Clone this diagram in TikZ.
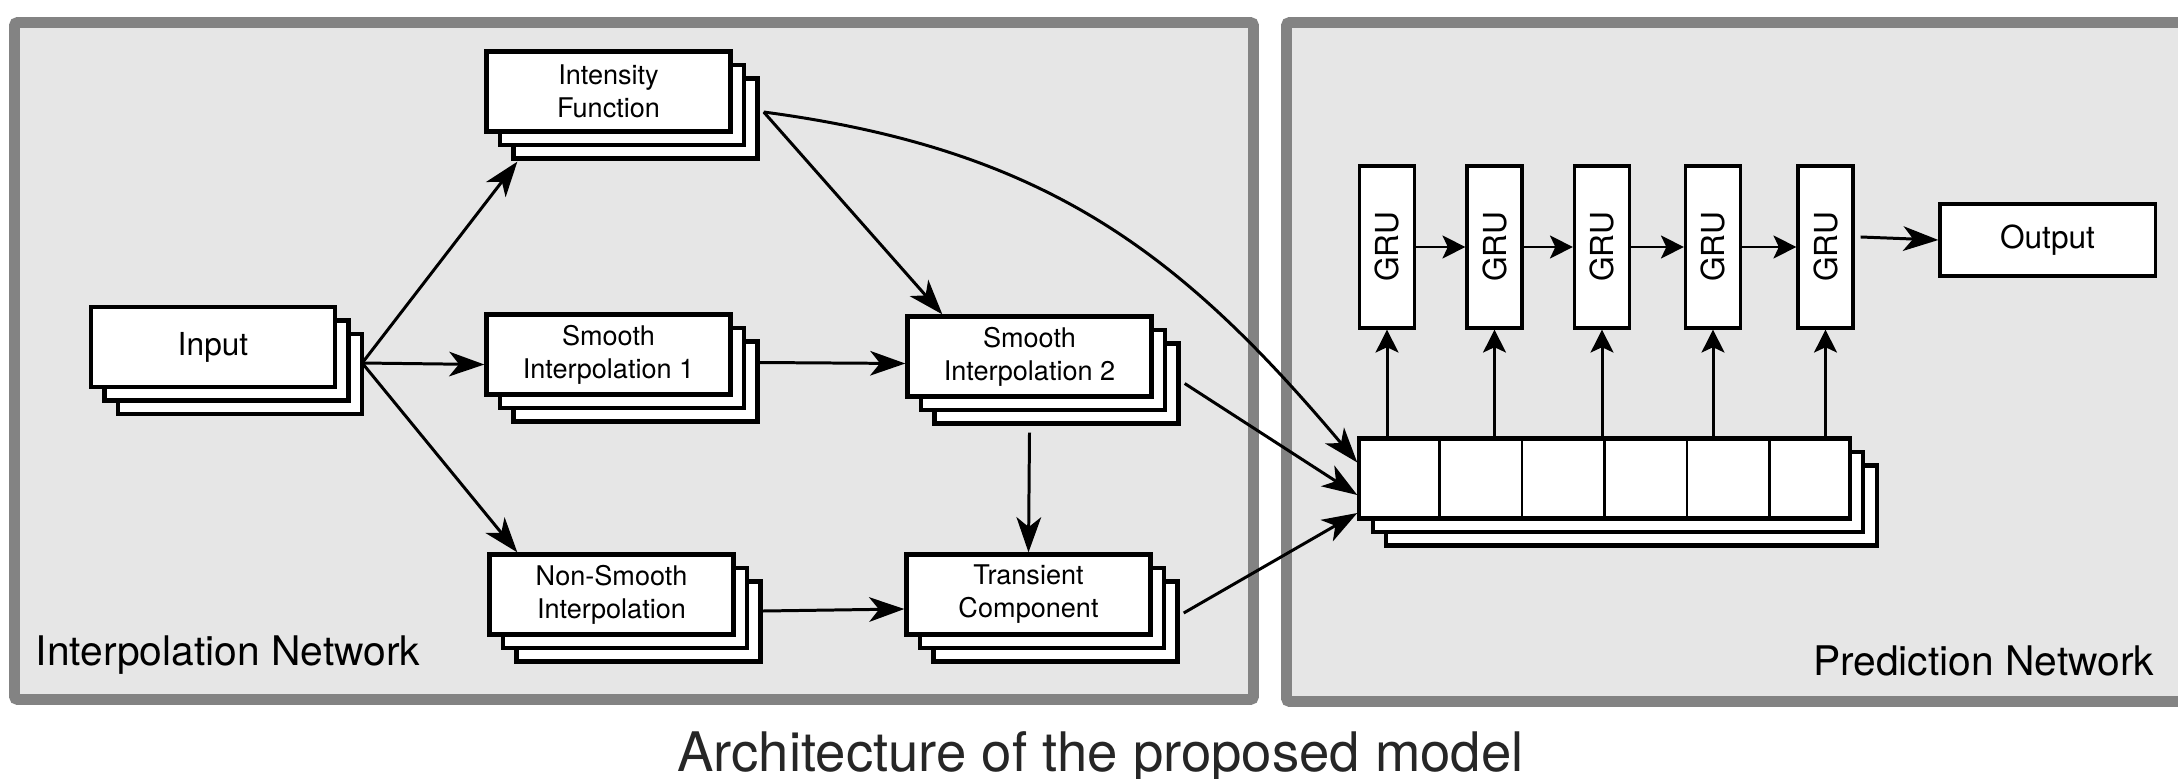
\documentclass[tikz,border=0pt]{standalone}
\usepackage{fontspec}
\setmainfont{TeX Gyre Heros}
\usetikzlibrary{arrows.meta}
\usetikzlibrary{shadows}
\usetikzlibrary{calc}
\newcommand{\lw}{0.85pt}
\newcommand{\BS}{\fontsize{7.7}{9.4}\selectfont}
\newcommand{\MS}{\fontsize{9}{11}\selectfont}
\newcommand{\NS}{\fontsize{11.6}{14}\selectfont}
\newcommand{\TS}{\fontsize{15.5}{18}\selectfont}
\definecolor{frameedge}{HTML}{838383}
\definecolor{framefill}{HTML}{E6E6E6}
\tikzset{
    panel/.style={draw=frameedge,fill=framefill,line width=3pt,rounded corners=0.8pt},
    stack/.style={draw=black,fill=white,line width=1.2pt,inner sep=0pt,align=center,font=\BS,
        minimum width=2.44cm,minimum height=0.8cm,
        double copy shadow={shadow xshift=0.135cm,shadow yshift=-0.135cm}},
    cell/.style={draw=black,fill=white,line width=0.9pt,inner sep=0pt,font=\MS},
    flow/.style={-{Stealth[length=10pt,width=7pt,inset=2.8pt]},line width=\lw},
    feed/.style={-{Stealth[length=6.5pt,width=6.5pt,inset=1.5pt]},line width=\lw}
}

\begin{document}
\begin{tikzpicture}[x=0.01cm,y=-0.01cm]
    \useasboundingbox (0,0) rectangle (2178,779);
    \clip (0,0) rectangle (2178,779);

    % the two panels
    \draw[panel] (14.5,22.5) rectangle (1253.5,699.5);
    \draw[panel] (1286.5,22.5) rectangle (2240,701.5);
    \node[anchor=base west,inner sep=0pt,font=\NS] (inl) at (35,665) {Interpolation Network};
    \node[anchor=base east,inner sep=0pt,font=\NS] (prl) at (2155,675) {Prediction Network};

    % interpolation network
    \node[stack,font=\MS] (in) at (213,347) {Input};
    \node[stack] (if) at (608.5,91.5) {Intensity\\Function};
    \node[stack] (si1) at (608.5,354.5) {Smooth\\Interpolation 1};
    \node[stack] (si2) at (1029.5,356.5) {Smooth\\Interpolation 2};
    \node[stack] (ns) at (611.5,594.5) {Non-Smooth\\Interpolation};
    \node[stack] (tc) at (1028.5,594.5) {Transient\\Component};

    \coordinate (fork) at ([xshift=0.25cm,yshift=-0.16cm]in.east);
    \coordinate (ifout) at ([xshift=0.31cm,yshift=-0.205cm]if.east);

    \draw[flow] (fork) -- ([xshift=0.33cm,yshift=-0.28cm]if.south west);
    \draw[flow] (fork) -- ([yshift=-0.1cm]si1.west);
    \draw[flow] (fork) -- ([xshift=0.3cm]ns.north west);
    \draw[flow] (ifout) -- ([xshift=0.37cm]si2.north west);
    \draw[flow] ([xshift=0.27cm,yshift=-0.08cm]si1.east) -- ([yshift=-0.07cm]si2.west);
    \draw[flow] ([yshift=-0.34cm]si2.south) -- (tc.north);
    \draw[flow] ([xshift=0.27cm,yshift=-0.165cm]ns.east) -- ([yshift=-0.145cm]tc.west);

    % prediction network
    \node[stack,minimum width=4.9cm] (mem) at (1604.5,478.5) {};
    \foreach \k in {1,...,5}
        \draw[line width=0.7pt] ($(mem.north west)!\k/6!(mem.north east)$) -- ($(mem.south west)!\k/6!(mem.south east)$);

    \foreach \i/\x in {1/1387,2/1494.5,3/1602,4/1713,5/1825.5}
        \node[cell,minimum width=0.55cm,minimum height=1.62cm] (g\i) at (\x,247) {\rotatebox{90}{GRU}};
    \node[cell,minimum width=2.15cm,minimum height=0.72cm] (out) at (2047.5,240) {Output};

    \foreach \i [count=\j from 2] in {1,...,4}
        \draw[feed] (g\i) -- (g\j);
    \foreach \i in {1,...,5}
        \draw[feed] (g\i.south |- mem.north) -- (g\i.south);
    \draw[flow] ([xshift=0.06cm,yshift=0.1cm]g5.east) -- (out.west);

    % into the memory block
    \draw[flow] (ifout) .. controls +(278,37) and +(-180,-214) .. ([yshift=0.16cm]mem.west);
    \draw[flow] ([xshift=0.31cm,yshift=-0.27cm]si2.east) -- ([yshift=-0.165cm]mem.west);
    \draw[flow] ([xshift=0.31cm,yshift=-0.185cm]tc.east) -- ([yshift=-0.345cm]mem.west);

    \node[anchor=base,inner sep=0pt,font=\TS,text=black!85] (ttl) at (1100.5,771) {Architecture of the proposed model};
\end{tikzpicture}
\end{document}
